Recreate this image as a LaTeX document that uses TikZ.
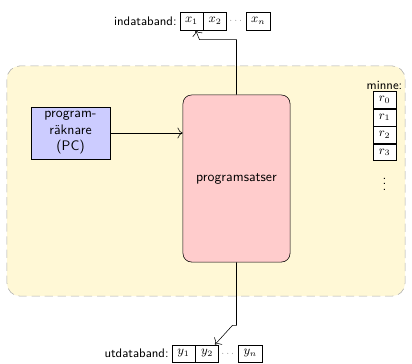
\documentclass[tikz,border=0pt]{standalone}
\usepackage{amsmath,amssymb}
\usepackage{xcolor}
\usepackage{tikz}
\usetikzlibrary{arrows,arrows.meta,positioning,calc}

\definecolor{cpuyellow}{RGB}{255,248,214}

\begin{document}
\begin{tikzpicture}[
    x=0.0255cm, y=-0.0255cm,
    font=\sffamily,
    area/.style={rectangle, draw=gray!65, dash pattern=on 6pt off 3.5pt, fill=cpuyellow, rounded corners=0.33cm, minimum width=10.15cm, minimum height=5.87cm},
    pcbox/.style={rectangle, draw, fill=blue!20, minimum width=2.01cm, minimum height=1.33cm, align=center, inner sep=1pt},
    progbox/.style={rectangle, draw, fill=red!20, minimum width=2.73cm, minimum height=4.26cm, rounded corners=0.22cm},
    cell/.style={rectangle, draw, fill=white, minimum width=0.59cm, minimum height=0.46cm, inner sep=0pt, font=\small},
    memcell/.style={cell, minimum height=0.43cm},
    gap/.style={minimum width=0.48cm, inner sep=0pt, font=\tiny},
    tapelabel/.style={font=\sffamily\small, inner sep=2pt},
    arrow/.style={-{To[scale=1.5]}, thin}
]
    \useasboundingbox (0,0) rectangle (412,363);

    % Processor area
    \node[area] (cpu) at (206,181) {};

    % Program counter and program
    \node[pcbox] (pc) at (70.5,133) {program-\\r\"aknare\\(PC)};
    \node[progbox] (prog) at (236.5,178.5) {programsatser};

    % Memory
    \node[memcell] (r0) at (384.5,100) {$r_0$};
    \node[memcell, below=0pt of r0] (r1) {$r_1$};
    \node[memcell, below=0pt of r1] (r2) {$r_2$};
    \node[memcell, below=0pt of r2] (r3) {$r_3$};
    \node[above=0pt of r0, inner sep=1pt, font=\sffamily\small] (minne) {minne:};
    \node[inner sep=0pt] (rdots) at (384.5,180) {$\vdots$};

    % Input tape
    \node[cell] (x1) at (191.5,21) {$x_1$};
    \node[cell, right=0pt of x1] (x2) {$x_2$};
    \node[gap, right=0pt of x2] (xd) {$\cdots$};
    \node[cell, right=0pt of xd] (xn) {$x_n$};
    \node[tapelabel, left=0pt of x1] (inlbl) {indataband:};

    % Output tape
    \node[cell, minimum height=0.44cm] (y1) at (183.5,353.5) {$y_1$};
    \node[cell, minimum height=0.44cm, right=0pt of y1] (y2) {$y_2$};
    \node[gap, right=0pt of y2] (yd) {$\cdots$};
    \node[cell, minimum height=0.44cm, right=0pt of yd] (yn) {$y_n$};
    \node[tapelabel, left=0pt of y1] (utlbl) {utdataband:};

    % Connections
    \coordinate (xin) at ($(x1.south)!0.35!(x1.south east)$);
    \coordinate (yout) at ($(y2.north)!0.65!(y2.north east)$);
    \draw[arrow] (pc) -- (pc -| prog.west);
    \draw[arrow] (prog.north) -- ++(0,-55) -- ++(-37,0) -- (xin);
    \draw[arrow] (prog.south) -- ++(0,63) -- ++(-4,0) -- (yout);
\end{tikzpicture}
\end{document}
